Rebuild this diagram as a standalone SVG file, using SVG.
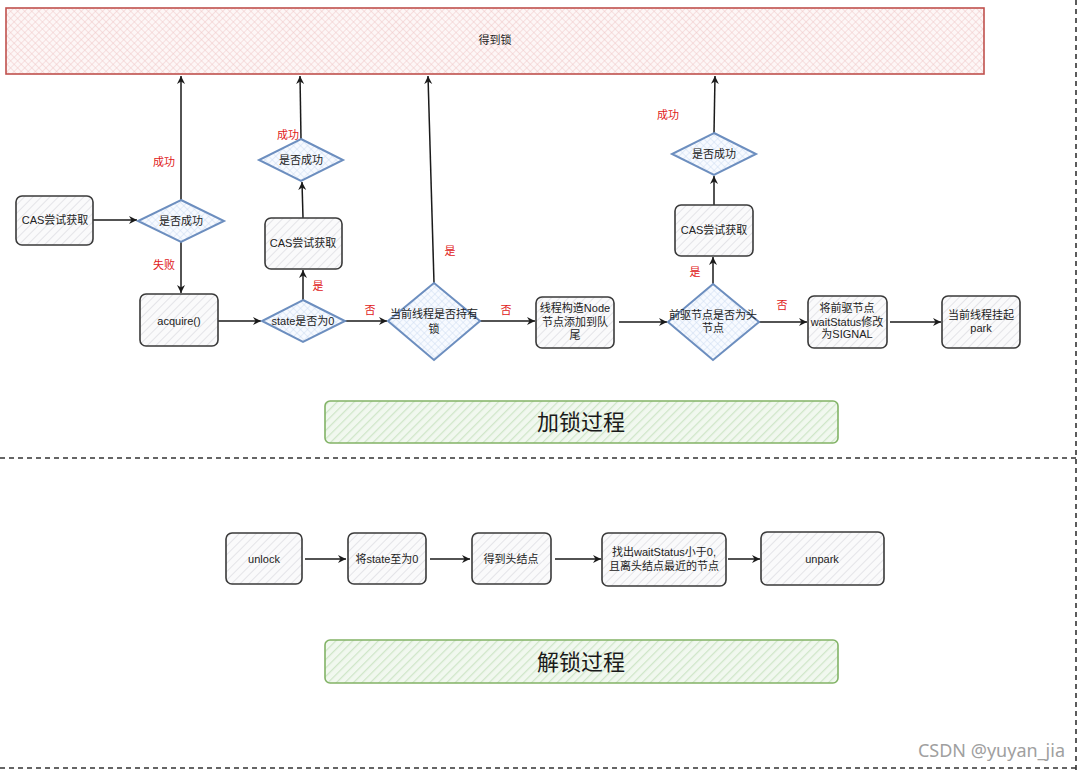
<svg xmlns="http://www.w3.org/2000/svg" width="1080" height="771" viewBox="0 0 1080 771">
<defs>
<pattern id="hGray" width="6" height="6" patternUnits="userSpaceOnUse" patternTransform="rotate(45)">
<rect width="6" height="6" fill="#fafafb"/>
<line x1="0" y1="0" x2="0" y2="6" stroke="#e4e4e8" stroke-width="2"/>
</pattern>
<pattern id="hBlue" width="5" height="5" patternUnits="userSpaceOnUse" patternTransform="rotate(45)">
<rect width="5" height="5" fill="#f7faff"/>
<path d="M0,0 V5 M0,0 H5" stroke="#cddcf2" stroke-width="1"/>
</pattern>
<pattern id="hRed" width="5" height="5" patternUnits="userSpaceOnUse" patternTransform="rotate(45)">
<rect width="5" height="5" fill="#fdf6f6"/>
<path d="M0,0 V5 M0,0 H5" stroke="#f0c6c6" stroke-width="1"/>
</pattern>
<pattern id="hGreen" width="6" height="6" patternUnits="userSpaceOnUse" patternTransform="rotate(45)">
<rect width="6" height="6" fill="#f1f8ef"/>
<line x1="0" y1="0" x2="0" y2="6" stroke="#cfe6c8" stroke-width="2.5"/>
</pattern>
<marker id="arr" markerWidth="10" markerHeight="10" refX="8" refY="4" orient="auto" markerUnits="userSpaceOnUse">
<path d="M0,0 L8,4 L0,8 L2.5,4 z" fill="#1a1a1a"/>
</marker>
</defs>
<style>
.box{fill:url(#hGray);stroke:#3a3a3a;stroke-width:1.6}
.dia{fill:url(#hBlue);stroke:#6c8ebf;stroke-width:2}
.t{font-family:"Liberation Sans","Noto Sans CJK SC",sans-serif;font-size:11px;fill:#222;text-anchor:middle}
.lbl{font-family:"Liberation Sans","Noto Sans CJK SC",sans-serif;font-size:11px;fill:#e02020;text-anchor:middle}
.big{font-family:"Liberation Sans","Noto Sans CJK SC",sans-serif;font-size:22px;fill:#1a1a1a;text-anchor:middle}
.edge{stroke:#1a1a1a;stroke-width:1.5;fill:none;marker-end:url(#arr)}
.dash{stroke:#333;stroke-width:1.6;stroke-dasharray:5 4;fill:none}
</style>
<rect width="1080" height="771" fill="#ffffff"/>

<g id="frame">
<line class="dash" x1="0" y1="458" x2="1076" y2="458"/>
<line class="dash" x1="0" y1="768" x2="1076" y2="768"/>
<line class="dash" x1="1076" y1="0" x2="1076" y2="771"/>
</g>

<g id="got-lock">
<rect x="6" y="8" width="978" height="66" fill="url(#hRed)" stroke="#c0504d" stroke-width="1.6"/>
<text class="t" x="495" y="44">得到锁</text>
</g>

<g id="connectors">
<line class="edge" x1="93" y1="220" x2="137" y2="220"/>
<line class="edge" x1="181" y1="200" x2="181" y2="76"/>
<line class="edge" x1="181" y1="242" x2="181" y2="293"/>
<line class="edge" x1="218" y1="321" x2="261" y2="321"/>
<line class="edge" x1="303" y1="300" x2="303" y2="270"/>
<line class="edge" x1="303" y1="218" x2="302" y2="182"/>
<line class="edge" x1="301" y1="139" x2="300" y2="76"/>
<line class="edge" x1="345" y1="321" x2="387" y2="321"/>
<line class="edge" x1="434" y1="283" x2="428" y2="76"/>
<line class="edge" x1="480" y1="321" x2="535" y2="321"/>
<line class="edge" x1="619" y1="322" x2="667" y2="322"/>
<line class="edge" x1="713" y1="284" x2="713" y2="257"/>
<line class="edge" x1="714" y1="205" x2="714" y2="176"/>
<line class="edge" x1="714" y1="133" x2="715" y2="76"/>
<line class="edge" x1="759" y1="322" x2="807" y2="322"/>
<line class="edge" x1="890" y1="322" x2="941" y2="322"/>
<line class="edge" x1="305" y1="559" x2="346" y2="559"/>
<line class="edge" x1="430" y1="559" x2="470" y2="559"/>
<line class="edge" x1="555" y1="559" x2="601" y2="559"/>
<line class="edge" x1="728" y1="559" x2="760" y2="559"/>
<text class="lbl" x="164" y="166">成功</text>
<text class="lbl" x="164" y="269">失败</text>
<text class="lbl" x="288" y="139">成功</text>
<text class="lbl" x="318" y="290">是</text>
<text class="lbl" x="370" y="314">否</text>
<text class="lbl" x="450" y="255">是</text>
<text class="lbl" x="506" y="314">否</text>
<text class="lbl" x="695" y="276">是</text>
<text class="lbl" x="782" y="309">否</text>
<text class="lbl" x="668" y="119">成功</text>
</g>

<g id="cas1">
<rect class="box" x="16" y="196" width="77" height="49" rx="6"/>
<text class="t" x="55" y="224">CAS尝试获取</text>
</g>
<g id="succ1">
<polygon class="dia" points="181,200 224,221 181,242 138,221"/>
<text class="t" x="181" y="225">是否成功</text>
</g>
<g id="acquire">
<rect class="box" x="140" y="294" width="78" height="52" rx="6"/>
<text class="t" x="179" y="325">acquire()</text>
</g>
<g id="state0">
<polygon class="dia" points="303,300 345,321 303,342 262,321"/>
<text class="t" x="303" y="325">state是否为0</text>
</g>
<g id="cas2">
<rect class="box" x="265" y="218" width="77" height="51" rx="6"/>
<text class="t" x="303" y="247">CAS尝试获取</text>
</g>
<g id="succ2">
<polygon class="dia" points="301,139 343,160 301,181 259,160"/>
<text class="t" x="301" y="164">是否成功</text>
</g>
<g id="holds">
<polygon class="dia" points="434,283 480,321 434,360 388,321"/>
<text class="t" x="434" y="318">当前线程是否持有</text>
<text class="t" x="434" y="333">锁</text>
</g>
<g id="enqueue">
<rect class="box" x="536" y="297" width="78" height="51" rx="6"/>
<text class="t" x="575" y="312">线程构造Node</text>
<text class="t" x="575" y="326">节点添加到队</text>
<text class="t" x="575" y="339">尾</text>
</g>
<g id="prevhead">
<polygon class="dia" points="713,284 759,322 713,360 668,322"/>
<text class="t" x="713" y="319">前驱节点是否为头</text>
<text class="t" x="713" y="332">节点</text>
</g>
<g id="cas3">
<rect class="box" x="675" y="205" width="78" height="51" rx="6"/>
<text class="t" x="714" y="234">CAS尝试获取</text>
</g>
<g id="succ3">
<polygon class="dia" points="714,133 756,154 714,175 672,154"/>
<text class="t" x="714" y="158">是否成功</text>
</g>
<g id="signal">
<rect class="box" x="808" y="296" width="79" height="52" rx="6"/>
<text class="t" x="847" y="312">将前驱节点</text>
<text class="t" x="847" y="326">waitStatus修改</text>
<text class="t" x="847" y="338">为SIGNAL</text>
</g>
<g id="park">
<rect class="box" x="942" y="296" width="78" height="52" rx="6"/>
<text class="t" x="981" y="319">当前线程挂起</text>
<text class="t" x="981" y="332">park</text>
</g>
<g id="lock-title">
<rect x="325" y="401" width="513" height="42" rx="5" fill="url(#hGreen)" stroke="#82b366" stroke-width="1.6"/>
<text class="big" x="581" y="430">加锁过程</text>
</g>

<g id="unlock">
<rect class="box" x="226" y="533" width="76" height="51" rx="6"/>
<text class="t" x="264" y="563">unlock</text>
</g>
<g id="setstate">
<rect class="box" x="348" y="533" width="78" height="51" rx="6"/>
<text class="t" x="387" y="563">将state至为0</text>
</g>
<g id="gethead">
<rect class="box" x="472" y="533" width="79" height="51" rx="6"/>
<text class="t" x="511" y="563">得到头结点</text>
</g>
<g id="findnode">
<rect class="box" x="602" y="533" width="124" height="53" rx="6"/>
<text class="t" x="664" y="556">找出waitStatus小于0,</text>
<text class="t" x="664" y="570">且离头结点最近的节点</text>
</g>
<g id="unpark">
<rect class="box" x="761" y="532" width="123" height="53" rx="6"/>
<text class="t" x="822" y="563">unpark</text>
</g>
<g id="unlock-title">
<rect x="325" y="640" width="513" height="43" rx="5" fill="url(#hGreen)" stroke="#82b366" stroke-width="1.6"/>
<text class="big" x="581" y="670">解锁过程</text>
</g>

<g id="watermark">
<text x="1065" y="757" font-family="Noto Sans, sans-serif" font-size="18" fill="#a0a0a0" text-anchor="end">CSDN @yuyan_jia</text>
</g>
</svg>
